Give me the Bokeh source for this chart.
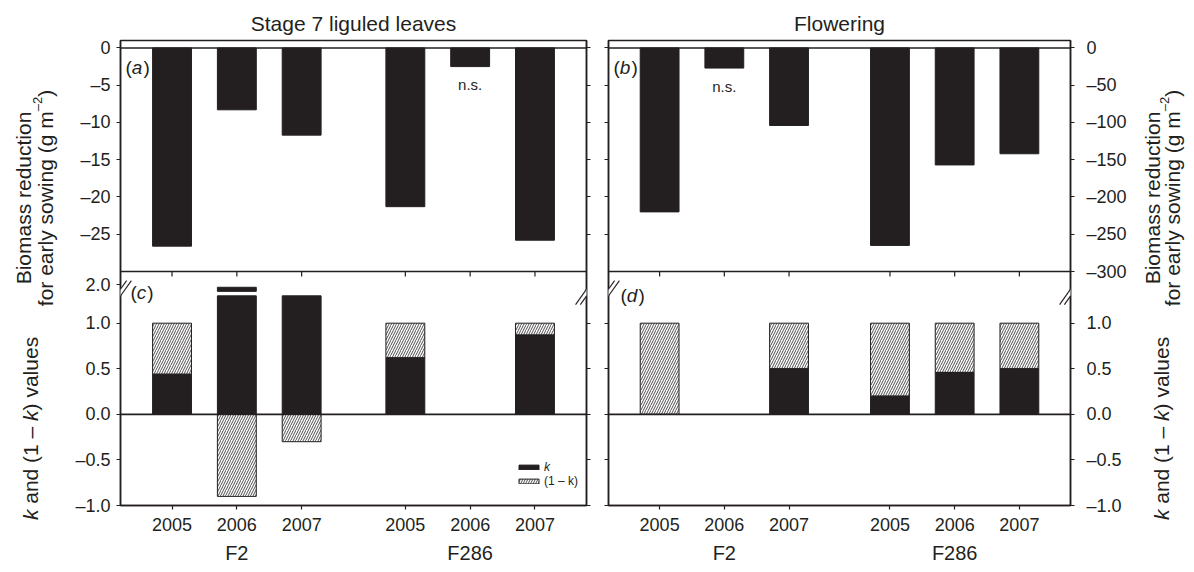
import math

from bokeh.core.properties import value
from bokeh.embed import file_html
from bokeh.layouts import row
from bokeh.models import (Arrow, CategoricalAxis, ColumnDataSource, CustomJSTickFormatter,
                          FactorRange, FixedTicker, Label, Legend, LegendItem, LinearAxis,
                          PolyAnnotation, Range1d, Span)
from bokeh.plotting import figure
from bokeh.resources import INLINE

# ---------------------------------------------------------------- data
lines = ["F2", "F2", "F2", "F286", "F286", "F286"]
years = ["2005", "2006", "2007", "2005", "2006", "2007"]

# biomass reduction for early sowing (g m-2)
biomass_v7 = [-26.6, -8.3, -11.7, -21.3, -2.5, -25.8]      # stage 7 liguled leaves
biomass_flo = [-220, -27, -104, -265, -157, -142]          # flowering
significant_v7 = [True, True, True, True, False, True]
significant_flo = [True, False, True, True, True, True]

# k values (None: not computed, difference not significant)
k_v7 = [0.44, 1.9, 1.3, 0.62, None, 0.87]
k_flo = [0.0, None, 0.50, 0.20, 0.46, 0.50]

stage_titles = ["Stage 7 liguled leaves", "Flowering"]
panel_letters = ["a", "b", "c", "d"]
biomass_ticks_v7 = [0, -5, -10, -15, -20, -25]
biomass_ticks_flo = [0, -50, -100, -150, -200, -250, -300]
biomass_limits_v7 = (-30, 1.0)
biomass_limits_flo = (-300, 10)
k_ticks = [-1.0, -0.5, 0.0, 0.5, 1.0]
k_axis_top_value = 2.0
biomass_title = [[("Biomass reduction", "normal", 0)],
                 [("for early sowing (g m", "normal", 0), ("\u20132", "normal", 1),
                  (")", "normal", 0)]]
k_title = [("k", "italic", 0), (" and (1 \u2013 ", "normal", 0), ("k", "italic", 0),
           (") values", "normal", 0)]
legend_labels = ["k", "(1 \u2013 k)"]

# ---------------------------------------------------------------- styling
FONT = "Liberation Sans"
INK = "#231f20"
TICK_SIZE = "18px"
TITLE_SIZE = "21px"
GROUP_SIZE = "20px"
AXIS_TITLE_SIZE = 21
SUP_SIZE = 13
SUP_RAISE = 8
BAR_W = 0.6

LEFT_W, RIGHT_W = 466, 462
TOP_H, BOT_H = 231, 234
TOP_MARGIN, BOTTOM_MARGIN = 40, 67
PAGE_H = TOP_MARGIN + TOP_H + BOT_H + BOTTOM_MARGIN
STRIP_L, STRIP_R = 66, 60
PAD_L, PAD_R = 0.295, 0.29      # padding on each side of the outer bars' centres
GPAD_L, GPAD_R = 0.6, 0.56

# broken k axis: values above K_BREAK go on a compressed upper segment
K_BREAK = 1.3
K_UPPER_FROM = 1.75
K_UPPER_POS = 1.424
K_UPPER_SCALE = 0.3
K_LO, K_HI = -1.0, 1.567


def k_pos(v):
    if v <= K_BREAK:
        return v
    return K_UPPER_POS + (v - k_axis_top_value) * K_UPPER_SCALE


# Helvetica-style advance widths (per em)
CHAR_W = {" ": .278, "(": .333, ")": .333, ".": .278, "\u2013": .556, "B": .667,
          "a": .556, "b": .556, "c": .5, "d": .556, "e": .556, "f": .278, "g": .556,
          "i": .222, "k": .5, "l": .222, "m": .833, "n": .556, "o": .556, "r": .333,
          "s": .5, "t": .278, "u": .556, "v": .5, "w": .722, "y": .5}


def text_w(s, size):
    return sum(CHAR_W.get(c, .556) for c in s) * size


def num_label(v, digits):
    return ("\u2013" if v < 0 else "") + f"{abs(v):.{digits}f}"


factors = list(zip(lines, years))


def x_range(gpad, pad):
    return FactorRange(factors=factors, factor_padding=0, group_padding=gpad,
                       range_padding=pad, range_padding_units="absolute")


def x_span(gpad):
    return len(factors) + gpad * (len(set(lines)) - 1)


def tick_formatter(positions, labels):
    return CustomJSTickFormatter(args=dict(pos=positions, labels=labels), code="""
        for (let i = 0; i < pos.length; i++) {
            if (Math.abs(tick - pos[i]) < 1e-6) return labels[i];
        }
        return "";
    """)


def add_y_axis(p, side, positions, labels, standoff):
    ax = LinearAxis(ticker=FixedTicker(ticks=positions, minor_ticks=[]),
                    formatter=tick_formatter(positions, labels))
    ax.axis_line_color = INK
    ax.axis_line_width = 1.5
    ax.major_tick_line_color = INK
    ax.major_tick_line_width = 1.2
    ax.major_tick_out = 4
    ax.major_tick_in = 0
    ax.minor_tick_out = 0
    ax.minor_tick_in = 0
    ax.major_label_text_font = FONT
    ax.major_label_text_font_size = TICK_SIZE
    ax.major_label_text_color = INK
    ax.major_label_standoff = standoff
    p.add_layout(ax, side)
    return ax


def add_x_axis(p):
    ax = CategoricalAxis()
    ax.axis_line_color = INK
    ax.axis_line_width = 1.5
    ax.major_tick_line_color = INK
    ax.major_tick_line_width = 1.2
    ax.major_tick_out = 4
    ax.major_tick_in = 0
    ax.minor_tick_out = 0
    ax.major_label_text_font = FONT
    ax.major_label_text_font_size = TICK_SIZE
    ax.major_label_text_color = INK
    ax.major_label_standoff = 8
    ax.group_text_font = FONT
    ax.group_text_font_size = GROUP_SIZE
    ax.group_text_font_style = "normal"
    ax.group_text_color = INK
    ax.group_text_line_height = 1.8
    ax.separator_line_color = None
    p.add_layout(ax, "below")
    return ax


def panel_letter(p, x0, y1, letter, dx, dy):
    size = 19
    off = dx
    for txt, style in (("(", "normal"), (letter, "italic"), (")", "normal")):
        p.add_layout(Label(x=x0, y=y1, x_offset=off, y_offset=-dy, text=txt,
                           text_font=FONT, text_font_size=f"{size}px",
                           text_font_style=style, text_color=INK,
                           text_align="left", text_baseline="middle"))
        off += text_w(txt, size) + (1 if style == "italic" else 0)


def break_mark(p, x_edge, y_mid, ppx, ppy):
    """Pair of slashes with a white gap across a vertical frame edge."""
    hw, hh, gap = 8.5, 12.0, 2.4
    xs = [x_edge + (-gap - hw) / ppx, x_edge + (gap - hw) / ppx,
          x_edge + (gap + hw) / ppx, x_edge + (-gap + hw) / ppx]
    ys = [y_mid - hh / ppy, y_mid - hh / ppy, y_mid + hh / ppy, y_mid + hh / ppy]
    p.add_layout(PolyAnnotation(xs=xs, ys=ys, fill_color="white", fill_alpha=1.0,
                                line_color=None, level="overlay"))
    for s in (-gap, gap):
        p.add_layout(Arrow(end=None, x_start=x_edge + (s - hw) / ppx, y_start=y_mid - hh / ppy,
                           x_end=x_edge + (s + hw) / ppx, y_end=y_mid + hh / ppy,
                           line_color=INK, line_width=1.1, level="overlay"))


def stage_column(xr, fw, borders, title, biomass, significant, bio_ticks, bio_limits,
                 kvals, letters, left_side):
    """Biomass panel on top of the k panel, sharing one frame and x scale."""
    bio_lo, bio_hi = bio_limits
    ppy_k = BOT_H / (K_HI - K_LO)
    k_top = K_HI + TOP_H / ppy_k
    ppy_b = TOP_H / (bio_hi - bio_lo)
    bio_range = Range1d(bio_lo - BOT_H / ppy_b, bio_hi)

    def bio_to_k(v):
        return K_HI + (v - bio_lo) * ppy_b / ppy_k

    left, right = borders
    p = figure(x_range=xr, y_range=Range1d(K_LO, k_top), frame_width=fw,
               frame_height=TOP_H + BOT_H, x_axis_location=None, y_axis_location=None,
               toolbar_location=None, tools="", output_backend="svg",
               min_border_left=left, min_border_right=right,
               min_border_top=TOP_MARGIN, min_border_bottom=BOTTOM_MARGIN, title=title)
    p.extra_y_ranges = {"bio": bio_range}
    p.grid.visible = False
    p.outline_line_color = INK
    p.outline_line_width = 1.5
    p.background_fill_color = "white"
    p.border_fill_color = "white"
    p.title.align = "center"
    p.title.text_font = FONT
    p.title.text_font_size = TITLE_SIZE
    p.title.text_font_style = "normal"
    p.title.text_color = INK
    p.title.standoff = 11

    # --- biomass bars
    p.vbar(x=factors, top=0, bottom=biomass, width=BAR_W, y_range_name="bio",
           fill_color=INK, line_color=INK, line_width=1)
    p.add_layout(Span(location=0, dimension="width", y_range_name="bio",
                      line_color=INK, line_width=1.5))
    ns = [(f, v) for f, v, s in zip(factors, biomass, significant) if not s]
    if ns:
        p.text(x=[f for f, _ in ns], y=[v for _, v in ns], text=["n.s."] * len(ns),
               y_range_name="bio", y_offset=18, text_align="center", text_baseline="middle",
               text_font=value(FONT), text_font_size="15px", text_color=INK)

    # --- k and (1 - k) bars
    lo = dict(x=[], bottom=[], top=[])
    hi = dict(x=[], bottom=[], top=[])
    hatch = dict(x=[], bottom=[], top=[])
    for f, k in zip(factors, kvals):
        if k is None:
            continue
        if k > 0:
            lo["x"].append(f); lo["bottom"].append(0.0); lo["top"].append(k_pos(min(k, K_BREAK)))
        if k > K_BREAK:
            hi["x"].append(f); hi["bottom"].append(k_pos(K_UPPER_FROM)); hi["top"].append(k_pos(k))
        hatch["x"].append(f)
        if k <= 1:
            hatch["bottom"].append(k); hatch["top"].append(1.0)
        else:
            hatch["bottom"].append(1.0 - k); hatch["top"].append(0.0)
    r_h = p.vbar(x="x", bottom="bottom", top="top", width=BAR_W,
                 source=ColumnDataSource(hatch), fill_color="white", line_color=INK,
                 line_width=1, hatch_pattern="/", hatch_color=INK, hatch_scale=5,
                 hatch_weight=0.8)
    r_k = p.vbar(x="x", bottom="bottom", top="top", width=BAR_W,
                 source=ColumnDataSource(lo), fill_color=INK, line_color=INK, line_width=1)
    if hi["x"]:
        p.vbar(x="x", bottom="bottom", top="top", width=BAR_W, source=ColumnDataSource(hi),
               fill_color=INK, line_color=INK, line_width=1)
    p.add_layout(Span(location=0, dimension="width", line_color=INK, line_width=1.8))
    # divider between the two panels, with category ticks pointing down from it
    p.add_layout(Span(location=K_HI, dimension="width", line_color=INK, line_width=1.5))
    p.segment(x0=factors, x1=factors, y0=[K_HI] * len(factors),
              y1=[K_HI - 5 / ppy_k] * len(factors), line_color=INK, line_width=1.2)
    add_x_axis(p)

    # --- y axes: biomass ticks above the divider, k ticks below it
    n_bio = len(bio_ticks)
    bio_pos = [bio_to_k(v) for v in bio_ticks]
    bio_lab = [num_label(v, 0) for v in bio_ticks]
    k_lab = [num_label(v, 1) for v in k_ticks]
    shown = [v for v in bio_ticks if v > bio_lo]
    if left_side:
        pos = [bio_to_k(v) for v in shown] + k_ticks + [K_UPPER_POS]
        lab = [num_label(v, 0) for v in shown] + k_lab + [num_label(k_axis_top_value, 1)]
        add_y_axis(p, "left", pos, lab, 6)
        add_y_axis(p, "right", bio_pos + k_ticks, [""] * (n_bio + len(k_ticks)), 0)
    else:
        add_y_axis(p, "left", [bio_to_k(v) for v in shown] + k_ticks,
                   [""] * (len(shown) + len(k_ticks)), 0)
        add_y_axis(p, "right", bio_pos + k_ticks, bio_lab + k_lab, 12)

    # --- broken-axis marks, panel letters, legend
    ppx = fw / (x_span(xr.group_padding) + 2 * xr.range_padding)
    x0 = -xr.range_padding
    x1 = x_span(xr.group_padding) + xr.range_padding
    ymark = 1.336
    break_mark(p, x0, ymark, ppx, ppy_k)
    break_mark(p, x1, ymark, ppx, ppy_k)
    panel_letter(p, x0, k_top, letters[0], 5, 27)
    panel_letter(p, x0, K_HI, letters[1], 10 if left_side else 12, 21 if left_side else 24)

    if left_side:
        for label, rend, style, y in ((legend_labels[0], r_k, "italic", 31),
                                      (legend_labels[1], r_h, "normal", 17)):
            leg = Legend(items=[LegendItem(label=label, renderers=[rend])], location=(396, y))
            leg.glyph_width = 25
            leg.glyph_height = 6
            leg.label_height = 6
            leg.label_standoff = 3
            leg.padding = 0
            leg.margin = 0
            leg.spacing = 0
            leg.border_line_color = None
            leg.background_fill_alpha = 0
            leg.label_text_font = FONT
            leg.label_text_font_size = "12px"
            leg.label_text_font_style = style
            leg.label_text_color = INK
            p.add_layout(leg)
    return p


def title_strip(width, items):
    """Narrow strip holding the rotated y-axis titles (read bottom-to-top)."""
    p = figure(x_range=Range1d(0, width), y_range=Range1d(PAGE_H, 0), frame_width=width,
               frame_height=PAGE_H, x_axis_location=None, y_axis_location=None,
               toolbar_location=None, tools="", output_backend="svg", min_border=0)
    p.grid.visible = False
    p.outline_line_color = None
    p.background_fill_color = "white"
    p.border_fill_color = "white"
    for x_base, y_mid, parts in items:
        sizes = [SUP_SIZE if sup else AXIS_TITLE_SIZE for _, _, sup in parts]
        total = sum(text_w(t, s) for (t, _, _), s in zip(parts, sizes))
        off = -total / 2
        for (txt, style, sup), size in zip(parts, sizes):
            lead = len(txt) - len(txt.lstrip(" "))
            p.add_layout(Label(x=x_base, y=y_mid, x_offset=-SUP_RAISE if sup else 0,
                               y_offset=off + text_w(" " * lead, size), text=txt.strip(" "),
                               angle=math.pi / 2, text_font=FONT,
                               text_font_size=f"{size}px", text_font_style=style,
                               text_color=INK, text_align="left",
                               text_baseline="alphabetic"))
            off += text_w(txt, size)
    return p


# ---------------------------------------------------------------- layout
top_mid = TOP_MARGIN + TOP_H / 2 + 2
bot_mid = TOP_MARGIN + TOP_H + BOT_H / 2

left_col = stage_column(x_range(GPAD_L, PAD_L), LEFT_W, (120 - STRIP_L, 10), stage_titles[0],
                        biomass_v7, significant_v7, biomass_ticks_v7, biomass_limits_v7,
                        k_v7, panel_letters[0::2], True)
right_col = stage_column(x_range(GPAD_R, PAD_R), RIGHT_W, (12, 124 - STRIP_R), stage_titles[1],
                         biomass_flo, significant_flo, biomass_ticks_flo, biomass_limits_flo,
                         k_flo, panel_letters[1::2], False)

strip_left = title_strip(STRIP_L, [(22.5, top_mid, biomass_title[0]),
                                   (44.5, top_mid, biomass_title[1]),
                                   (30.0, bot_mid, k_title)])
strip_right = title_strip(STRIP_R, [(18.0, top_mid, biomass_title[0]),
                                    (38.0, top_mid, biomass_title[1]),
                                    (27.0, bot_mid, k_title)])

layout = row(strip_left, left_col, right_col, strip_right)

with open("out.html", "w") as fh:
    fh.write(file_html(layout, INLINE))
